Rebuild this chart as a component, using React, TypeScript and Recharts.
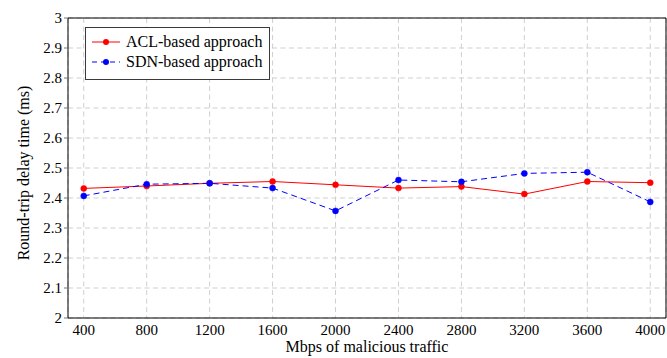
import { LineChart, Line, XAxis, YAxis, CartesianGrid, Legend, ReferenceArea } from 'recharts';

const rates = [400, 800, 1200, 1600, 2000, 2400, 2800, 3200, 3600, 4000];
const aclDelay = [2.432, 2.44, 2.449, 2.455, 2.444, 2.433, 2.438, 2.413, 2.455, 2.451];
const sdnDelay = [2.407, 2.446, 2.449, 2.433, 2.357, 2.46, 2.454, 2.482, 2.486, 2.387];
const yTicks = [2, 2.1, 2.2, 2.3, 2.4, 2.5, 2.6, 2.7, 2.8, 2.9, 3];

const data = rates.map((r, i) => ({ rate: r, acl: aclDelay[i], sdn: sdnDelay[i] }));

const font = '"Liberation Serif", "Times New Roman", serif';

const legendRows = [
  { name: 'ACL-based approach', color: '#ff0000', dash: undefined },
  { name: 'SDN-based approach', color: '#0000ff', dash: '5 4' },
];

function LegendBox() {
  return (
    <div
      style={{
        border: '1px solid #3a3a3a',
        background: '#fff',
        width: 183,
        height: 47,
        paddingTop: 4,
        boxSizing: 'content-box',
        fontFamily: font,
        fontSize: 16,
        color: '#000',
      }}
    >
      {legendRows.map((row) => (
        <div key={row.name} style={{ display: 'flex', alignItems: 'center', height: 20 }}>
          <svg width={40} height={20}>
            <line x1={6} y1={10} x2={34} y2={10} stroke={row.color} strokeWidth={1} strokeDasharray={row.dash} />
            <circle cx={20} cy={10} r={3} fill={row.color} />
          </svg>
          <span style={{ lineHeight: '20px' }}>{row.name}</span>
        </div>
      ))}
    </div>
  );
}

export default function App() {
  return (
    <div style={{ position: 'absolute', left: 0, top: 0, width: 667, height: 358, background: '#fff', fontFamily: font }}>
      <LineChart
        width={667}
        height={358}
        data={data}
        margin={{ top: 18, right: 1, bottom: 0, left: 0 }}
        style={{ fontFamily: font }}
      >
        <CartesianGrid stroke="#cfcfcf" strokeDasharray="5 3.5" />
        <XAxis
          dataKey="rate"
          type="number"
          domain={[300, 4100]}
          ticks={rates}
          height={40}
          tickLine={false}
          tickSize={4}
          tickMargin={2}
          axisLine={false}
          tick={{ fill: '#000', fontSize: 15, fontFamily: font, style: { fontFamily: font } }}
          label={{ value: 'Mbps of malicious traffic', position: 'insideBottom', offset: 6, fill: '#000', fontSize: 16, fontFamily: font }}
        />
        <YAxis
          type="number"
          domain={[2, 3]}
          ticks={yTicks}
          width={68}
          tickSize={4}
          tickMargin={2}
          axisLine={false}
          tickLine={{ stroke: '#777' }}
          tick={{ fill: '#000', fontSize: 15, fontFamily: font, style: { fontFamily: font } }}
          label={{
            content: () => (
              <text
                x={23}
                y={173}
                transform="rotate(-90 23 173)"
                textAnchor="middle"
                dominantBaseline="central"
                fill="#000"
                fontSize={16}
                fontFamily={font}
              >
                Round-trip delay time (ms)
              </text>
            ),
          }}
        />
        <ReferenceArea x1={300} x2={4100} y1={2} y2={3} fill="none" stroke="#000" strokeWidth={1} ifOverflow="visible" />
        <Line
          dataKey="acl"
          name="ACL-based approach"
          stroke="#ff0000"
          strokeWidth={1}
          dot={{ r: 3, fill: '#ff0000', stroke: '#ff0000', strokeWidth: 0.5 }}
          isAnimationActive={false}
        />
        <Line
          dataKey="sdn"
          name="SDN-based approach"
          stroke="#0000ff"
          strokeWidth={1}
          strokeDasharray="6 4"
          dot={{ r: 3, fill: '#0000ff', stroke: '#0000ff', strokeWidth: 0.5, strokeDasharray: '' }}
          isAnimationActive={false}
        />
        <Legend
          layout="horizontal"
          verticalAlign="middle"
          align="center"
          content={() => <LegendBox />}
          wrapperStyle={{ position: 'absolute', left: 85, top: 27, width: 'auto' }}
        />
      </LineChart>
    </div>
  );
}
